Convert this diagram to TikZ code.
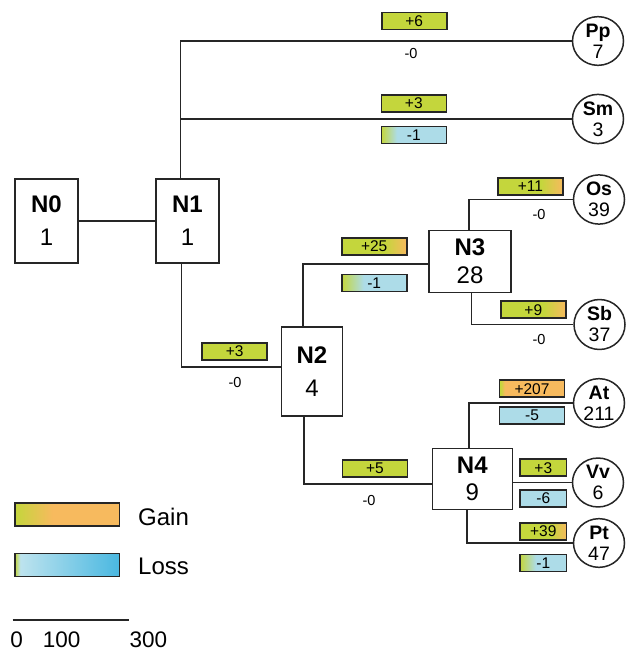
\documentclass[tikz,border=0pt]{standalone}
\usepackage{fontspec}
\setmainfont{Liberation Sans}
\usetikzlibrary{shapes.geometric}
\definecolor{gr}{HTML}{C4D63C}
\definecolor{orng}{HTML}{F7BA5E}
\definecolor{lblue}{HTML}{ADDCE8}
\definecolor{lblueb}{HTML}{BDE3EE}
\definecolor{mblue}{HTML}{4AB8E1}
\pgfdeclarehorizontalshading{gainend}{100bp}{color(0bp)=(gr); color(58bp)=(gr); color(75bp)=(orng); color(100bp)=(orng)}
\pgfdeclarehorizontalshading{gainstart}{100bp}{color(0bp)=(gr); color(26bp)=(gr); color(29bp)=(orng); color(100bp)=(orng)}
\pgfdeclarehorizontalshading{lossthird}{100bp}{color(0bp)=(gr); color(25bp)=(gr); color(42bp)=(lblue); color(100bp)=(lblue)}
\pgfdeclarehorizontalshading{lossquarter}{100bp}{color(0bp)=(gr); color(25bp)=(gr); color(37bp)=(lblue); color(100bp)=(lblue)}
\pgfdeclarehorizontalshading{legendgain}{100bp}{color(0bp)=(gr); color(25bp)=(gr); color(43bp)=(orng); color(100bp)=(orng)}
\pgfdeclarehorizontalshading{legendloss}{100bp}{color(0bp)=(gr); color(25bp)=(gr); color(27.5bp)=(lblueb); color(75bp)=(mblue); color(100bp)=(mblue)}
\tikzset{
  tline/.style={line width=1.7pt, draw=black!85},
  bignode/.style={draw=black!85, line width=1.5pt, align=center, inner sep=0pt, fill=white},
  leaf/.style={draw=black!85, ellipse, line width=1.5pt, minimum width=51, minimum height=47, inner sep=0pt, align=center, font=\fontsize{19.5}{21}\selectfont, fill=white},
  chg/.style={draw=black!85, line width=1.6pt, minimum width=65, minimum height=17, inner sep=0pt, font=\fontsize{15.5}{15.5}\selectfont},
  shortchg/.style={chg, minimum width=46.7},
  zero/.style={font=\fontsize{14.5}{14.5}\selectfont, inner sep=0pt},
  legbox/.style={draw=black!85, line width=1.6pt, minimum width=104.3, minimum height=23, inner sep=0pt},
  legtext/.style={anchor=west, inner sep=0pt, font=\fontsize{24}{24}\selectfont},
  scaletext/.style={font=\fontsize{22.5}{22.5}\selectfont, inner sep=0pt}
}
\begin{document}
\begin{tikzpicture}[x=1pt,y=-1pt]
\useasboundingbox (0,0) rectangle (625,653);
\fill[white] (0,0) rectangle (625,653);
% internal nodes
\node[bignode, minimum width=63, minimum height=84, font=\fontsize{24}{33}\selectfont] (N0) at (46.5,221) {\textbf{N0}\\1};
\node[bignode, minimum width=63, minimum height=84, font=\fontsize{24}{33}\selectfont] (N1) at (187.5,221) {\textbf{N1}\\1};
\node[bignode, minimum width=61, minimum height=89, font=\fontsize{24}{33}\selectfont] (N2) at (312,371.5) {\textbf{N2}\\4};
\node[bignode, minimum width=82, minimum height=62, font=\fontsize{24}{28}\selectfont] (N3) at (470,261.5) {\textbf{N3}\\28};
\node[bignode, minimum width=80, minimum height=61, font=\fontsize{24}{27}\selectfont] (N4) at (472.3,479) {\textbf{N4}\\9};
% leaves
\node[leaf] (Pp) at (598,41) {\textbf{Pp}\\7};
\node[leaf] (Sm) at (598,119) {\textbf{Sm}\\3};
\node[leaf] (Os) at (599,199.5) {\textbf{Os}\\39};
\node[leaf] (Sb) at (599.5,324.5) {\textbf{Sb}\\37};
\node[leaf] (At) at (599,403) {\textbf{At}\\211};
\node[leaf] (Vv) at (598,482.5) {\textbf{Vv}\\6};
\node[leaf] (Pt) at (599,543) {\textbf{Pt}\\47};
% connectors
\draw[tline] (N0) -- (N1);
\draw[tline] ([xshift=-7pt]N1.north) |- (Pp.west);
\draw[tline] ([xshift=-7pt]N1.north) |- (Sm.west);
\draw[tline] ([xshift=-6pt]N1.south) |- ([yshift=4.5pt]N2.west);
\draw[tline] ([xshift=-9pt]N2.north) |- ([yshift=-2.5pt]N3.west);
\draw[tline] ([xshift=-8pt]N2.south) |- ([yshift=-5pt]N4.west);
\draw[tline] ([xshift=-1pt]N3.north) |- (Os.west);
\draw[tline] ([xshift=1.5pt]N3.south) |- (Sb.west);
\draw[tline] ([xshift=-3pt]N4.north) |- (At.west);
\draw[tline] ([yshift=-3.5pt]N4.east) -- (Vv.west);
\draw[tline] ([xshift=-5pt]N4.south) |- (Pt.west);
% gains and losses
\node[chg, fill=gr] (gPp) at (414.2,20.8) {+6};
\node[zero] (lPp) at (411,54) {-0};
\node[chg, fill=gr] (gSm) at (413.8,103.6) {+3};
\node[chg, shading=lossquarter] (lSm) at (413.8,135) {-1};
\node[chg, shading=gainend] (gOs) at (530.5,186.6) {+11};
\node[zero] (lOs) at (539,215) {-0};
\node[chg, shading=gainend] (gN3) at (374.2,246.5) {+25};
\node[chg, shading=lossthird] (lN3) at (374.2,283) {-1};
\node[chg, shading=gainend] (gSb) at (533.3,309.7) {+9};
\node[zero] (lSb) at (539,340) {-0};
\node[chg, fill=gr] (gN2) at (234.7,351.2) {+3};
\node[zero] (lN2) at (235,383) {-0};
\node[chg, fill=gr] (gN4) at (375,468.3) {+5};
\node[zero] (lN4) at (369,501) {-0};
\node[chg, shading=gainstart] (gAt) at (532,388.7) {+207};
\node[chg, fill=lblue] (lAt) at (532,415.7) {-5};
\node[shortchg, fill=gr] (gVv) at (543.3,467.7) {+3};
\node[shortchg, fill=lblue] (lVv) at (543.3,498.3) {-6};
\node[shortchg, shading=gainend] (gPt) at (543.3,531.3) {+39};
\node[shortchg, shading=lossthird] (lPt) at (543.3,563) {-1};
% legend
\node[legbox, shading=legendgain] (legG) at (67.2,514.7) {};
\node[legtext] (legGt) at (138,517) {Gain};
\node[legbox, shading=legendloss] (legL) at (67.2,565) {};
\node[legtext] (legLt) at (138,566) {Loss};
% scale bar
\coordinate (s0) at (12.7,620);
\coordinate (s1) at (129.3,620);
\draw[line width=1.5pt, draw=black!85] (s0) -- (s1);
\node[scaletext] (sc0) at (16.7,640) {0};
\node[scaletext] (sc1) at (61.7,640) {100};
\node[scaletext] (sc3) at (148.3,640) {300};
\end{tikzpicture}
\end{document}
